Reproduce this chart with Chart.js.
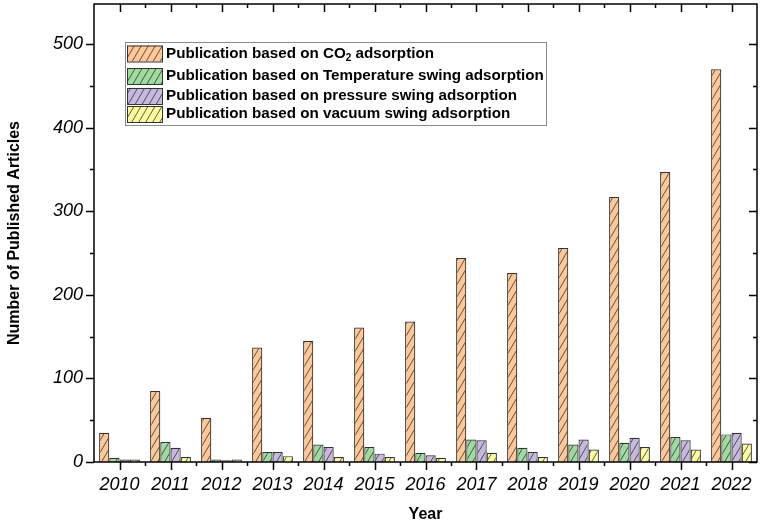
<!DOCTYPE html>
<html>
<head>
<meta charset="utf-8">
<script src="https://cdn.jsdelivr.net/npm/chart.js@4.4.0/dist/chart.umd.min.js"></script>
<style>
  html, body { margin: 0; padding: 0; background: #fff; }
  canvas { display: block; }
</style>
</head>
<body>
<canvas id="pubChart" width="761" height="525"></canvas>
<script>
const years = ['2010', '2011', '2012', '2013', '2014', '2015', '2016', '2017', '2018', '2019', '2020', '2021', '2022'];
const co2Ads = [35, 85, 53, 137, 145, 161, 168, 244, 226, 256, 317, 347, 470];
const tsaAds = [5, 24, 3, 12, 21, 18, 11, 27, 17, 21, 23, 30, 33];
const psaAds = [3, 17, 2, 12, 18, 10, 8, 26, 12, 27, 29, 26, 35];
const vsaAds = [3, 6, 3, 7, 6, 6, 5, 11, 6, 15, 18, 15, 22];
const seriesNames = [
    ['Publication based on CO', '2', ' adsorption'],
    ['Publication based on Temperature swing adsorption'],
    ['Publication based on pressure swing adsorption'],
    ['Publication based on vacuum swing adsorption']
];
const yTicks = [0, 100, 200, 300, 400, 500];

const fills = ['#FEC795', '#9FDB9F', '#C7B8E0', '#FDFC9E'];
const FONT = '"Liberation Sans", Arial, sans-serif';
Chart.defaults.font.family = FONT;
Chart.defaults.color = '#000';

// hatch "/" pattern, like Origin fills
function hatch(color) {
    const w = 7, h = 12;
    const c = document.createElement('canvas');
    c.width = w; c.height = h;
    const g = c.getContext('2d');
    g.fillStyle = color;
    g.fillRect(0, 0, w, h);
    g.strokeStyle = 'rgba(40,40,40,0.75)';
    g.lineWidth = 1;
    g.beginPath();
    [[-w, 2 * h, 2 * w, -h], [0, 2 * h, 3 * w, -h], [-2 * w, 2 * h, w, -h]].forEach(l => {
        g.moveTo(l[0], l[1]);
        g.lineTo(l[2], l[3]);
    });
    g.stroke();
    return g.createPattern(c, 'repeat');
}
const patterns = fills.map(hatch);

// frame with Origin-style ticks: outward on bottom/left, inward on top/right
const frameTicks = {
    id: 'frameTicks',
    afterDraw(chart) {
        const { ctx, chartArea: a, scales: { x, y } } = chart;
        ctx.save();
        ctx.strokeStyle = '#000';
        ctx.lineWidth = 1.5;
        ctx.strokeRect(a.left, a.top, a.right - a.left, a.bottom - a.top);
        ctx.beginPath();
        years.forEach((yr, i) => {
            const px = Math.round(x.getPixelForValue(i)) + 0.5;
            ctx.moveTo(px, a.bottom); ctx.lineTo(px, a.bottom + 8);
            ctx.moveTo(px, a.top); ctx.lineTo(px, a.top + 8);
            if (i < years.length - 1) {
                const mx = Math.round((x.getPixelForValue(i) + x.getPixelForValue(i + 1)) / 2) + 0.5;
                ctx.moveTo(mx, a.bottom); ctx.lineTo(mx, a.bottom + 4);
                ctx.moveTo(mx, a.top); ctx.lineTo(mx, a.top + 4);
            }
        });
        for (let v = 0; v <= 500; v += 50) {
            const py = Math.round(y.getPixelForValue(v)) + 0.5;
            const len = v % 100 === 0 ? 8 : 4;
            ctx.moveTo(a.left - len, py); ctx.lineTo(a.left, py);
            ctx.moveTo(a.right - len, py); ctx.lineTo(a.right, py);
        }
        ctx.stroke();
        ctx.restore();
    }
};

// legend box inside the plot, with CO2 subscript
const boxLegend = {
    id: 'boxLegend',
    afterDraw(chart) {
        const { ctx, chartArea: a } = chart;
        const left = a.left + 31, top = a.top + 38;
        const rows = [49.5, 72, 92, 110];
        ctx.save();
        ctx.fillStyle = '#fff';
        ctx.fillRect(left, top, 421, 83);
        ctx.strokeStyle = '#8a8a8a';
        ctx.lineWidth = 1;
        ctx.strokeRect(left + 0.5, top + 0.5, 421, 83);
        seriesNames.forEach((parts, i) => {
            const cy = a.top + rows[i];
            ctx.fillStyle = patterns[i];
            ctx.fillRect(left + 2, cy - 8, 35, 16);
            ctx.strokeStyle = '#333';
            ctx.strokeRect(left + 2.5, cy - 7.5, 35, 16);
            ctx.fillStyle = '#000';
            ctx.textBaseline = 'middle';
            ctx.font = 'bold 15.2px ' + FONT;
            let tx = left + 41;
            ctx.fillText(parts[0], tx, cy);
            if (parts.length > 1) {
                tx += ctx.measureText(parts[0]).width;
                ctx.font = 'bold 10px ' + FONT;
                ctx.fillText(parts[1], tx, cy + 5);
                tx += ctx.measureText(parts[1]).width;
                ctx.font = 'bold 15.2px ' + FONT;
                ctx.fillText(parts[2], tx, cy);
            }
        });
        ctx.restore();
    }
};

const datasets = [co2Ads, tsaAds, psaAds, vsaAds].map((vals, i) => ({
    label: seriesNames[i].join(''),
    data: vals,
    backgroundColor: patterns[i],
    borderColor: '#333',
    borderWidth: 1.2,
    categoryPercentage: 0.8,
    barPercentage: 1
}));

new Chart(document.getElementById('pubChart'), {
    type: 'bar',
    data: { labels: years, datasets },
    options: {
        responsive: false,
        animation: false,
        devicePixelRatio: 1,
        layout: { padding: { top: 4, right: 4, left: 0, bottom: 0 } },
        plugins: { legend: { display: false }, tooltip: { enabled: false } },
        scales: {
            x: {
                offset: true,
                grid: { display: false, drawTicks: false },
                border: { display: false },
                ticks: { font: { size: 18, style: 'italic' }, padding: 12, maxRotation: 0 },
                title: { display: true, text: 'Year', font: { size: 16, weight: 'bold' }, padding: { top: 0, bottom: 1 } },
                afterFit: s => { s.height = 63; s.paddingLeft = 0; s.paddingRight = 0; }
            },
            y: {
                min: 0,
                max: 548,
                grid: { display: false, drawTicks: false },
                border: { display: false },
                ticks: { font: { size: 18, style: 'italic' }, padding: 11, stepSize: 100 },
                afterBuildTicks: s => { s.ticks = yTicks.map(v => ({ value: v })); },
                title: { display: true, text: 'Number of Published Articles', font: { size: 16, weight: 'bold' }, padding: { top: 5, bottom: 0 } },
                afterFit: s => { s.width = 94; s.paddingTop = 0; s.paddingBottom = 0; }
            }
        }
    },
    plugins: [frameTicks, boxLegend]
});
</script>
</body>
</html>
